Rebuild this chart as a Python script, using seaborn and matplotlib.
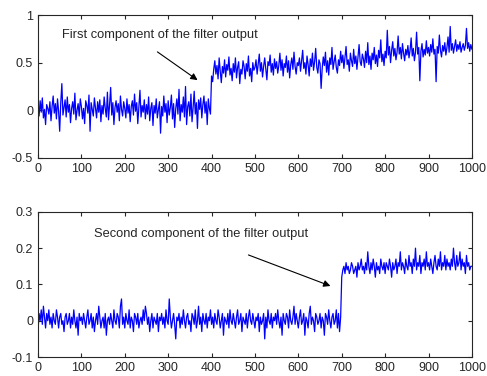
import numpy as np
import pandas as pd
import matplotlib
matplotlib.use("Agg")
import matplotlib.pyplot as plt
import matplotlib.ticker as mtick
import seaborn as sns

# --- data (one value every 2.5 samples, 0..1000) ---
first_component = [
    0.03, -0.06, 0.10, -0.02, 0.13, -0.08, 0.01, -0.15, 0.06, 0.02, -0.04, 0.09, -0.11, 0.04, 0.15, -0.03, 0.07, -0.09, 0.12, -0.01,
    -0.22, 0.08, 0.28, -0.05, 0.03, 0.11, -0.07, 0.14, -0.02, 0.06, -0.13, 0.02, 0.09, -0.04, 0.18, -0.10, 0.00, 0.07, -0.06, 0.12,
    0.04, -0.09, 0.02, -0.14, 0.10, 0.05, -0.03, 0.16, -0.22, 0.08, 0.01, -0.06, 0.13, 0.03, -0.08, 0.09, -0.02, 0.11, -0.12, 0.05,
    -0.04, 0.14, 0.02, -0.07, 0.19, -0.10, 0.06, 0.24, -0.05, 0.08, -0.15, 0.03, 0.10, -0.02, 0.07, -0.11, 0.15, 0.01, -0.06, 0.09,
    0.02, -0.08, 0.12, -0.03, 0.06, -0.12, 0.04, 0.10, -0.05, 0.17, -0.01, 0.08, -0.14, 0.03, 0.21, -0.07, 0.05, -0.02, 0.11, -0.09,
    0.06, -0.04, 0.14, -0.11, 0.02, 0.08, -0.16, 0.05, -0.03, 0.12, -0.08, 0.01, 0.09, -0.24, 0.04, -0.06, 0.15, -0.02, 0.07, -0.13,
    0.10, -0.05, 0.03, 0.16, -0.09, 0.07, -0.18, 0.02, 0.12, -0.04, 0.22, -0.11, 0.06, -0.02, 0.14, -0.07, 0.25, -0.15, 0.04, 0.09,
    -0.06, 0.17, -0.12, 0.03, 0.20, -0.04, 0.08, -0.19, 0.11, 0.01, 0.13, -0.08, 0.06, 0.15, -0.03, 0.09, -0.15, 0.12, 0.02, -0.04,
    0.36, 0.30, 0.43, 0.52, 0.38, 0.47, 0.33, 0.55, 0.41, 0.29, 0.46, 0.39, 0.53, 0.35, 0.48, 0.42, 0.56, 0.37, 0.44, 0.31,
    0.49, 0.40, 0.55, 0.34, 0.45, 0.51, 0.28, 0.43, 0.38, 0.52, 0.46, 0.33, 0.49, 0.41, 0.57, 0.36, 0.44, 0.30, 0.50, 0.42,
    0.45, 0.53, 0.38, 0.48, 0.59, 0.41, 0.50, 0.35, 0.46, 0.55, 0.43, 0.32, 0.51, 0.47, 0.58, 0.40, 0.49, 0.37, 0.54, 0.44,
    0.51, 0.39, 0.47, 0.60, 0.42, 0.53, 0.36, 0.49, 0.45, 0.57, 0.40, 0.52, 0.34, 0.48, 0.55, 0.43, 0.61, 0.46, 0.38, 0.50,
    0.47, 0.55, 0.41, 0.52, 0.63, 0.44, 0.50, 0.38, 0.57, 0.48, 0.36, 0.54, 0.46, 0.60, 0.42, 0.51, 0.65, 0.45, 0.39, 0.53,
    0.49, 0.23, 0.44, 0.56, 0.47, 0.61, 0.40, 0.52, 0.37, 0.55, 0.48, 0.66, 0.43, 0.51, 0.58, 0.45, 0.39, 0.53, 0.47, 0.62,
    0.50, 0.58, 0.44, 0.55, 0.67, 0.48, 0.53, 0.41, 0.60, 0.52, 0.46, 0.64, 0.49, 0.57, 0.43, 0.56, 0.69, 0.51, 0.47, 0.59,
    0.54, 0.45, 0.62, 0.50, 0.71, 0.48, 0.57, 0.43, 0.60, 0.53, 0.66, 0.49, 0.58, 0.46, 0.63, 0.55, 0.74, 0.51, 0.59, 0.47,
    0.62, 0.55, 0.84, 0.58, 0.67, 0.50, 0.63, 0.72, 0.57, 0.65, 0.53, 0.61, 0.78, 0.59, 0.66, 0.54, 0.70, 0.60, 0.52, 0.64,
    0.58, 0.68, 0.55, 0.63, 0.76, 0.57, 0.65, 0.52, 0.61, 0.82, 0.59, 0.66, 0.31, 0.62, 0.70, 0.56, 0.64, 0.58, 0.73, 0.60,
    0.66, 0.57, 0.69, 0.61, 0.75, 0.59, 0.64, 0.30, 0.67, 0.60, 0.79, 0.63, 0.56, 0.68, 0.62, 0.71, 0.58, 0.66, 0.77, 0.61,
    0.88, 0.63, 0.70, 0.60, 0.67, 0.74, 0.62, 0.69, 0.64, 0.72, 0.61, 0.66, 0.70, 0.63, 0.68, 0.86, 0.65, 0.71, 0.62, 0.69,
    0.64,
]

second_component = [
    -0.03, 0.02, 0.00, 0.03, -0.01, 0.04, 0.01, -0.02, 0.02, 0.00, 0.03, -0.01, 0.01, -0.02, 0.02, 0.00, -0.01, 0.03, 0.01, -0.02,
    0.01, 0.02, -0.01, 0.00, -0.03, 0.01, 0.02, -0.01, 0.00, 0.02, -0.02, 0.01, -0.01, 0.03, 0.00, -0.02, 0.01, -0.04, 0.02, 0.00,
    0.01, -0.01, 0.02, 0.00, -0.02, 0.01, 0.03, -0.01, 0.00, 0.02, -0.02, 0.01, -0.03, 0.00, 0.02, -0.01, 0.04, 0.01, -0.02, 0.00,
    0.01, -0.02, 0.02, -0.04, 0.00, 0.01, -0.01, 0.02, 0.00, -0.02, 0.03, 0.00, -0.01, 0.02, 0.01, -0.02, 0.04, 0.06, -0.01, 0.01,
    -0.02, 0.02, 0.00, -0.01, 0.03, -0.02, 0.01, 0.00, -0.03, 0.02, 0.01, -0.01, 0.02, -0.02, 0.00, 0.01, -0.01, 0.03, 0.00, 0.04,
    0.02, -0.01, 0.01, -0.03, 0.00, 0.02, -0.02, 0.01, 0.00, -0.01, 0.02, -0.03, 0.01, 0.00, 0.02, -0.01, 0.01, -0.02, 0.03, 0.00,
    -0.01, 0.06, 0.01, -0.02, 0.00, 0.02, -0.01, -0.05, 0.01, 0.00, 0.02, -0.02, 0.01, -0.01, 0.03, 0.00, -0.02, 0.01, 0.02, -0.01,
    0.00, -0.03, 0.02, 0.01, -0.01, 0.03, -0.02, 0.00, 0.04, -0.01, 0.01, -0.03, 0.02, 0.00, -0.01, 0.02, -0.02, 0.01, 0.00, 0.03,
    -0.01, 0.01, -0.02, 0.02, 0.00, -0.01, 0.03, 0.01, -0.02, 0.00, 0.02, -0.04, 0.01, 0.00, -0.01, 0.02, -0.02, 0.03, 0.00, -0.01,
    0.02, 0.00, -0.02, 0.01, 0.03, -0.01, 0.00, 0.02, -0.03, 0.01, 0.00, -0.01, 0.02, -0.02, 0.01, 0.03, 0.00, -0.01, 0.02, 0.00,
    -0.02, 0.01, 0.00, 0.02, -0.03, 0.01, -0.01, 0.00, 0.02, -0.05, 0.01, -0.02, 0.03, 0.00, -0.01, 0.02, -0.02, 0.01, 0.00, 0.02,
    -0.01, 0.03, 0.00, -0.02, 0.01, -0.04, 0.02, 0.00, -0.01, 0.02, 0.01, -0.02, 0.03, 0.00, -0.01, 0.01, 0.04, -0.01, 0.02, 0.00,
    -0.02, 0.01, 0.03, -0.01, 0.00, 0.02, -0.04, 0.01, 0.00, -0.02, 0.02, 0.04, -0.01, 0.01, 0.00, -0.03, 0.02, 0.01, -0.01, 0.00,
    0.02, -0.02, 0.01, 0.00, -0.04, 0.02, 0.01, -0.01, 0.03, 0.00, -0.02, 0.01, 0.02, -0.01, 0.00, 0.03, -0.02, 0.02, -0.03, 0.01,
    0.12, 0.14, 0.15, 0.13, 0.16, 0.14, 0.15, 0.13, 0.14, 0.16, 0.15, 0.13, 0.14, 0.15, 0.12, 0.16, 0.14, 0.15, 0.17, 0.14,
    0.15, 0.13, 0.16, 0.14, 0.19, 0.15, 0.13, 0.16, 0.14, 0.17, 0.15, 0.12, 0.16, 0.14, 0.15, 0.13, 0.17, 0.15, 0.14, 0.16,
    0.13, 0.16, 0.15, 0.14, 0.17, 0.15, 0.12, 0.16, 0.14, 0.15, 0.17, 0.13, 0.16, 0.15, 0.19, 0.14, 0.16, 0.15, 0.13, 0.17,
    0.15, 0.14, 0.18, 0.15, 0.16, 0.13, 0.17, 0.15, 0.20, 0.14, 0.16, 0.15, 0.18, 0.13, 0.16, 0.15, 0.17, 0.14, 0.19, 0.15,
    0.16, 0.14, 0.17, 0.15, 0.13, 0.16, 0.18, 0.15, 0.14, 0.17, 0.15, 0.19, 0.14, 0.16, 0.15, 0.18, 0.14, 0.17, 0.15, 0.16,
    0.14, 0.17, 0.15, 0.20, 0.16, 0.14, 0.18, 0.15, 0.16, 0.19, 0.14, 0.17, 0.15, 0.16, 0.13, 0.18, 0.15, 0.16, 0.14, 0.15,
    0.15,
]

step = 2.5
samples = np.arange(len(first_component)) * step

df = pd.DataFrame({'sample': samples,
                   'first': first_component,
                   'second': second_component})

sns.set_style("ticks")
plt.rcParams['font.family'] = ['Liberation Sans', 'DejaVu Sans']
plt.rcParams['xtick.direction'] = 'in'
plt.rcParams['ytick.direction'] = 'in'

fig = plt.figure(figsize=(4.87, 3.76), dpi=100)
ax1 = fig.add_axes([0.078, 0.580, 0.891, 0.380])
ax2 = fig.add_axes([0.078, 0.0505, 0.891, 0.386])

panels = [
    (ax1, 'first', (-0.5, 1), [-0.5, 0, 0.5, 1],
     "First component of the filter output", (281, 0.79), (270, 0.63), (373, 0.30)),
    (ax2, 'second', (-0.1, 0.3), [-0.1, 0, 0.1, 0.2, 0.3],
     "Second component of the filter output", (376, 0.239), (479, 0.184), (680, 0.093)),
]

for ax, col, ylim, yticks, label, text_xy, tail_xy, head_xy in panels:
    sns.lineplot(data=df, x='sample', y=col, ax=ax, color='#0000ff', linewidth=0.9)
    ax.set_xlim(0, 1000)
    ax.set_ylim(*ylim)
    ax.set_xticks(range(0, 1001, 100))
    ax.set_yticks(yticks)
    ax.yaxis.set_major_formatter(mtick.FormatStrFormatter('%g'))
    ax.set_xlabel('')
    ax.set_ylabel('')
    ax.tick_params(labelsize=9, length=3, width=0.8, top=True, right=True)
    for s in ax.spines.values():
        s.set_visible(True)
        s.set_linewidth(0.8)
    ax.text(text_xy[0], text_xy[1], label, ha='center', va='center', fontsize=9.3)
    ax.annotate('', xy=head_xy, xytext=tail_xy,
                arrowprops=dict(arrowstyle='-|>', color='black', lw=0.8,
                                mutation_scale=10))

fig.savefig('out.png', dpi=100)
